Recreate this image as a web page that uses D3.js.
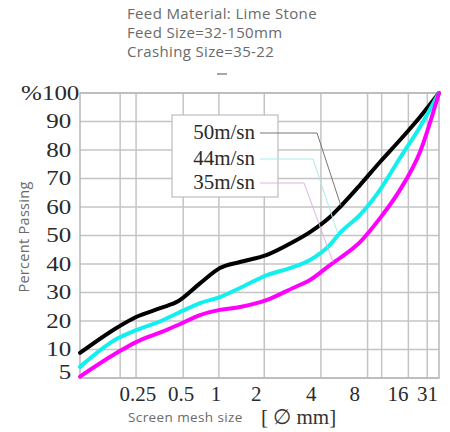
<!DOCTYPE html>
<html><head><meta charset="utf-8">
<script src="https://cdn.jsdelivr.net/npm/d3@7"></script>
<style>html,body{margin:0;padding:0;background:#fff;}svg{display:block;}</style>
</head><body><svg id="c" width="450" height="432"></svg>
<script>
// ---- data ----
const titleLines = ["Feed Material: Lime Stone", "Feed Size=32-150mm", "Crashing Size=35-22"];
const yTickValues = [2, 10, 20, 30, 40, 50, 60, 70, 80, 90, 100];
const yTickLabels = ["5", "10", "20", "30", "40", "50", "60", "70", "80", "90", "%100"];
const yGridValues = [0, 10, 20, 30, 40, 50, 60, 70, 80, 90, 100];
const xTickValues = [0.25, 0.5, 0.87, 1.66, 4, 8, 16, 25.6];
const xTickLabels = ["0.25", "0.5", "1", "2", "4", "8", "16", "31"];
const xGridValues = [0.19, 0.245, 0.52, 0.92, 1.9, 4.7, 9.9, 12.4, 19, 25.7];
const seriesNames = ["50m/sn", "44m/sn", "35m/sn"];
const meshSizes = [0.1, 0.184, 0.245, 0.365, 0.479, 0.68, 0.937, 1.289, 1.985, 3.007, 3.945, 5.43, 6.37, 8.77, 12.08, 16.62, 22.88, 31];
const pass50 = [8.8, 17.9, 21.4, 24.6, 26.9, 33.2, 38.6, 40.7, 43.2, 47.7, 51.2, 56.5, 60.0, 67.7, 75.8, 83.5, 91.6, 100];
const pass44 = [3.9, 14.0, 16.8, 20.0, 22.8, 26.3, 28.4, 31.6, 36.1, 38.9, 41.4, 46.7, 50.9, 57.2, 66.0, 77.2, 88.1, 100];
const pass35 = [0.5, 9.1, 12.6, 16.1, 18.6, 22.1, 23.9, 24.9, 27.4, 31.6, 34.4, 39.6, 42.1, 47.7, 56.1, 66.0, 79.3, 100];
const labelAnchorX = [6.47, 6.17, 5.70];
const labelAnchorY = [60.4, 50.5, 40.7];
const seriesColors = ["#000000", "#11f0ee", "#ff00ff"];
const leaderColors = ["#777777", "#a8ecec", "#e0b4e0"];

// ---- layout ----
const svg = d3.select("#c");
const L = 80, R = 439, T = 93, B = 378;
const x = d3.scaleLog().domain([0.1, 31]).range([L, R]);
const y = d3.scaleLinear().domain([0, 100]).range([B, T]);
const sans = "'Open Sans', Lato, sans-serif";
const serif = "'Liberation Serif', 'DejaVu Serif', serif";

svg.append("rect").attr("width", 450).attr("height", 432).attr("fill", "#fff");

// titles
svg.append("g").selectAll("text").data(titleLines).join("text")
  .attr("x", 127).attr("y", (d, i) => 19 + i * 19)
  .attr("font-family", sans).attr("font-size", 15).attr("letter-spacing", 0.35)
  .attr("fill", "#6a6a6a").text(d => d);
svg.append("line").attr("x1", 217).attr("x2", 227).attr("y1", 74).attr("y2", 74)
  .attr("stroke", "#888").attr("stroke-width", 1.5);

// grid
const grid = svg.append("g");
grid.selectAll("line.h").data(yGridValues).join("line").attr("class", "h")
  .attr("x1", L).attr("x2", R).attr("y1", d => y(d)).attr("y2", d => y(d))
  .attr("stroke", "#c4c4c4").attr("stroke-width", 1.5);
grid.selectAll("line.v").data(xGridValues).join("line").attr("class", "v")
  .attr("y1", T).attr("y2", B).attr("x1", d => x(d)).attr("x2", d => x(d))
  .attr("stroke", "#c4c4c4").attr("stroke-width", 1.5);
grid.append("rect").attr("x", L).attr("y", T).attr("width", R - L).attr("height", B - T)
  .attr("fill", "none").attr("stroke", "#b8b8b8").attr("stroke-width", 1.5);

// axes
const yAxis = d3.axisLeft(y).tickValues(yTickValues).tickSize(0).tickPadding(7)
  .tickFormat((d, i) => yTickLabels[i]);
const ga = svg.append("g").attr("transform", `translate(${L},0)`).call(yAxis);
ga.select(".domain").remove();
ga.selectAll("text").attr("font-family", serif)
  .attr("font-size", 20).attr("fill", "#2a2a2a")
  .attr("transform", "scale(1.25,1)");
ga.selectAll("text").filter(d => d === 100).attr("x", -0.5);

const xAxis = d3.axisBottom(x).tickValues(xTickValues).tickSize(0).tickPadding(8)
  .tickFormat((d, i) => xTickLabels[i]);
const gx = svg.append("g").attr("transform", `translate(0,${B})`).call(xAxis);
gx.select(".domain").remove();
gx.selectAll("text").attr("font-family", serif)
  .attr("font-size", 21).attr("fill", "#2a2a2a");

// axis titles
svg.append("text").attr("transform", "translate(29,237) rotate(-90)")
  .attr("text-anchor", "middle").attr("font-family", sans)
  .attr("font-size", 14.5).attr("letter-spacing", 0.3).attr("fill", "#6a6a6a").text("Percent Passing");
svg.append("text").attr("x", 128).attr("y", 422)
  .attr("font-family", sans).attr("font-size", 13.5).attr("letter-spacing", 0.4)
  .attr("fill", "#6a6a6a").text("Screen mesh size");
svg.append("text").attr("x", 261).attr("y", 424)
  .attr("font-family", serif).attr("font-size", 21)
  .attr("fill", "#333").text("[ ∅ mm]");

// curves
const series = [pass50, pass44, pass35];
const line = d3.line().x(d => x(d[0])).y(d => y(d[1])).curve(d3.curveMonotoneX);
svg.append("g").selectAll("path").data(series).join("path")
  .attr("d", s => line(meshSizes.map((m, i) => [m, s[i]])))
  .attr("fill", "none").attr("stroke", (d, i) => seriesColors[i])
  .attr("stroke-width", 4).attr("stroke-linecap", "round");

// legend
const lg = svg.append("g");
lg.append("rect").attr("x", 172).attr("y", 115).attr("width", 106).attr("height", 82)
  .attr("fill", "#fff").attr("stroke", "#bdbdbd").attr("stroke-width", 1.2);
const rowY = [133, 159, 183];
const elbowX = [317, 313, 304];
lg.selectAll("text").data(seriesNames).join("text")
  .attr("x", 255).attr("y", (d, i) => rowY[i] + 6).attr("text-anchor", "end")
  .attr("font-family", serif).attr("font-size", 21)
  .attr("fill", "#2a2a2a").text(d => d);
svg.append("g").selectAll("polyline").data(seriesNames).join("polyline")
  .attr("points", (d, i) => `260,${rowY[i]} ${elbowX[i]},${rowY[i]} ${x(labelAnchorX[i])},${y(labelAnchorY[i])}`)
  .attr("fill", "none").attr("stroke", (d, i) => leaderColors[i]).attr("stroke-width", 1);
</script></body></html>
